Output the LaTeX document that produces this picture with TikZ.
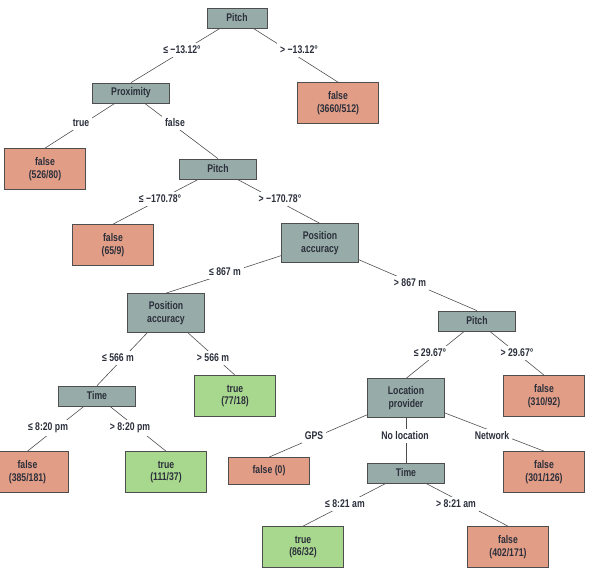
\documentclass[tikz,border=0pt]{standalone}
\usepackage{fontspec}
\setmainfont{Liberation Sans}[FakeStretch=0.78]
\usepackage{tikz}

\definecolor{splitgray}{RGB}{151,171,169}
\definecolor{leafred}{RGB}{226,157,134}
\definecolor{leafgreen}{RGB}{168,216,142}
\definecolor{rim}{RGB}{78,78,78}
\definecolor{ink}{RGB}{43,47,59}

\begin{document}
\begin{tikzpicture}[x=0.03cm, y=-0.03cm,
  every node/.style={font=\fontsize{9.5}{10.5}\selectfont\bfseries, text=ink, align=center},
  split/.style={draw=rim, fill=splitgray, line width=0.6pt, minimum width=2.31cm, minimum height=0.6cm, inner sep=1pt},
  leaf/.style={draw=rim, line width=0.6pt, minimum width=2.43cm, minimum height=1.23cm, inner sep=1pt},
  no/.style={leaf, fill=leafred},
  yes/.style={leaf, fill=leafgreen},
  edge/.style={draw=rim, line width=0.5pt},
  cond/.style={fill=white, inner sep=2.5pt}]
  \useasboundingbox (0,0) rectangle (593,568);

  % split nodes
  \node[split, minimum width=1.8cm] (pitchA) at (237,18) {Pitch};
  \node[split] (proximity) at (131,93) {Proximity};
  \node[split] (pitchB) at (218,169) {Pitch};
  \node[split, minimum height=1.15cm] (posaccA) at (320,243) {Position\\accuracy};
  \node[split, minimum height=1.17cm] (posaccB) at (166,313) {Position\\accuracy};
  \node[split] (pitchC) at (477,321) {Pitch};
  \node[split] (timeA) at (97,396) {Time};
  \node[split, minimum height=1.15cm] (locprov) at (406,398) {Location\\provider};
  \node[split] (timeB) at (406,473) {Time};

  % leaves, red = false, green = true
  \node[no] (leafA) at (338,103) {false\\(3660/512)};
  \node[no] (leafB) at (45,169) {false\\(526/80)};
  \node[no] (leafC) at (113,245) {false\\(65/9)};
  \node[yes] (leafD) at (235,396) {true\\(77/18)};
  \node[no] (leafE) at (544,396) {false\\(310/92)};
  \node[no] (leafF) at (27.5,472) {false\\(385/181)};
  \node[yes] (leafG) at (166,472) {true\\(111/37)};
  \node[no, minimum height=0.81cm] (leafH) at (269,471) {false (0)};
  \node[no] (leafI) at (544,472) {false\\(301/126)};
  \node[yes] (leafJ) at (303,547) {true\\(86/32)};
  \node[no] (leafK) at (508,547) {false\\(402/171)};

  % branches
  \draw[edge] (pitchA) -- (proximity.north);
  \draw[edge] (pitchA) -- (leafA.north);
  \draw[edge] (proximity) -- (leafB.north);
  \draw[edge] (proximity) -- (pitchB.north);
  \draw[edge] (pitchB) -- (leafC.north);
  \draw[edge] (pitchB) -- (posaccA.north);
  \draw[edge] (posaccA) -- (posaccB.north);
  \draw[edge] (posaccA) -- (pitchC.north);
  \draw[edge] (posaccB) -- (timeA.north);
  \draw[edge] (posaccB) -- (leafD.north);
  \draw[edge] (timeA) -- (leafF.north);
  \draw[edge] (timeA) -- (leafG.north);
  \draw[edge] (pitchC) -- (locprov.north);
  \draw[edge] (pitchC) -- (leafE.north);
  \draw[edge] (locprov) -- (leafH.north);
  \draw[edge] (locprov) -- (timeB.north);
  \draw[edge] (locprov) -- (leafI.north);
  \draw[edge] (timeB) -- (leafJ.north);
  \draw[edge] (timeB) -- (leafK.north);

  % branch conditions, white behind so the lines break
  \node[cond] (cPitchAle) at (182,50) {≤ −13.12°};
  \node[cond] (cPitchAgt) at (299,50) {> −13.12°};
  \node[cond] (cProxT) at (81,123) {true};
  \node[cond] (cProxF) at (175,123) {false};
  \node[cond] (cPitchBle) at (160,199) {≤ −170.78°};
  \node[cond] (cPitchBgt) at (280,199) {> −170.78°};
  \node[cond] (cPosAle) at (225,272) {≤ 867 m};
  \node[cond] (cPosAgt) at (410,283) {> 867 m};
  \node[cond] (cPosBle) at (118,358) {≤ 566 m};
  \node[cond] (cPosBgt) at (213,358) {> 566 m};
  \node[cond] (cPitchCle) at (430,353) {≤ 29.67°};
  \node[cond] (cPitchCgt) at (517,353) {> 29.67°};
  \node[cond] (cTimeAle) at (48,428) {≤ 8:20 pm};
  \node[cond] (cTimeAgt) at (130,428) {> 8:20 pm};
  \node[cond] (cGps) at (314,436) {GPS};
  \node[cond] (cNoLoc) at (405,436) {No location};
  \node[cond] (cNet) at (492,436) {Network};
  \node[cond] (cTimeBle) at (345,504) {≤ 8:21 am};
  \node[cond] (cTimeBgt) at (456,504) {> 8:21 am};
\end{tikzpicture}
\end{document}
